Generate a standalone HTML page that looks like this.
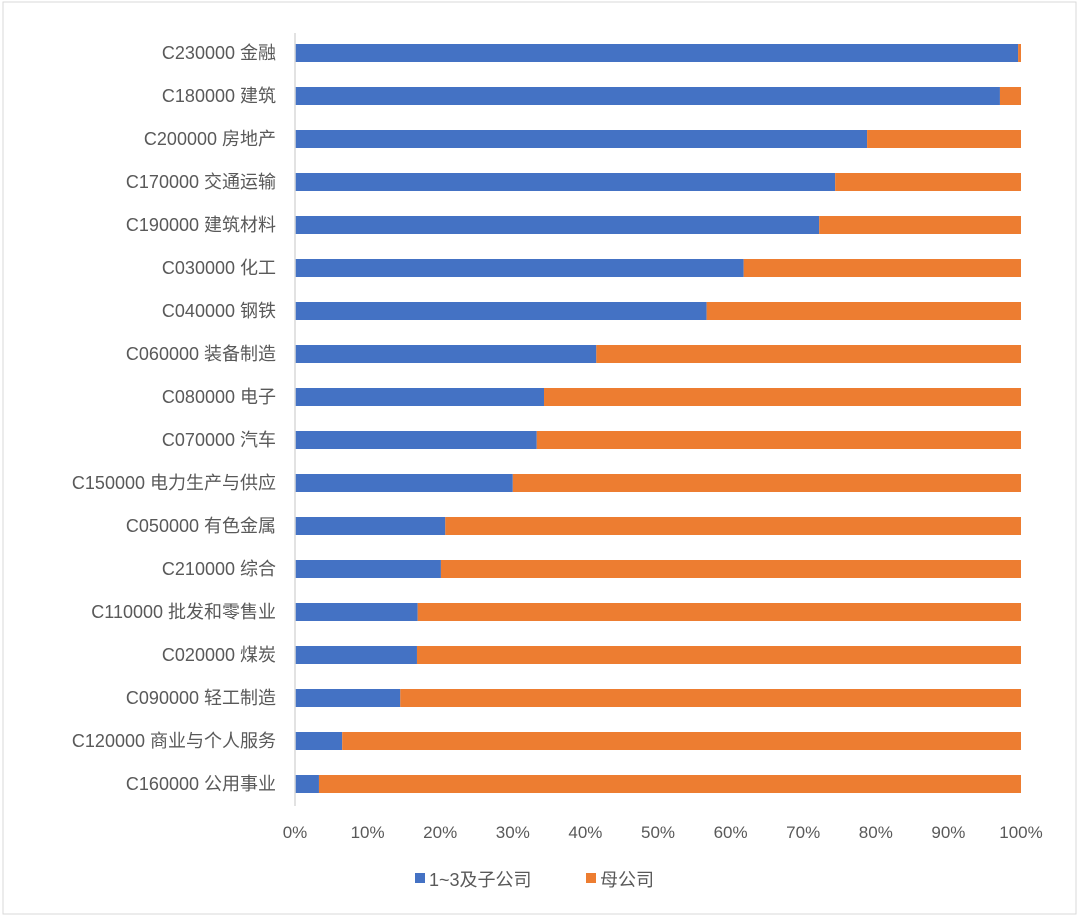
<!DOCTYPE html>
<html><head><meta charset="utf-8"><style>
body{margin:0;background:#fff;}
svg text{font-family:"Liberation Sans","Noto Sans CJK SC",sans-serif;fill:#595959;}
</style></head><body>
<svg id="c" width="1080" height="919">
<rect x="3" y="2" width="1073" height="912" fill="#fff" stroke="#d9d9d9"/>
</svg>
<script>
const categories=["C230000 金融","C180000 建筑","C200000 房地产","C170000 交通运输","C190000 建筑材料","C030000 化工","C040000 钢铁","C060000 装备制造","C080000 电子","C070000 汽车","C150000 电力生产与供应","C050000 有色金属","C210000 综合","C110000 批发和零售业","C020000 煤炭","C090000 轻工制造","C120000 商业与个人服务","C160000 公用事业"];
const subsidiary=[0.996,0.971,0.788,0.744,0.722,0.618,0.567,0.415,0.343,0.333,0.300,0.207,0.201,0.169,0.168,0.145,0.065,0.033];
const parent=subsidiary.map(v=>1-v);
const ticks=["0%","10%","20%","30%","40%","50%","60%","70%","80%","90%","100%"];
const svg=document.getElementById('c');const NS='http://www.w3.org/2000/svg';
function mk(t,a){const e=document.createElementNS(NS,t);for(const k in a)e.setAttribute(k,a[k]);svg.appendChild(e);return e;}
const x0=295,x1=1021,yTop=53,step=43,bh=18;
const xs=v=>x0+v*(x1-x0);
const ys=i=>yTop+i*step;
categories.forEach((c,i)=>{
 const y=ys(i);
 const b=mk('rect',{x:xs(0),y:y-bh/2,width:xs(subsidiary[i])-xs(0),height:bh,fill:'#4472C4'});
 
 
 const o=mk('rect',{x:xs(subsidiary[i]),y:y-bh/2,width:xs(subsidiary[i]+parent[i])-xs(subsidiary[i]),height:bh,fill:'#ED7D31'});
 
 
 const t=mk('text',{x:276,y:y+6,'text-anchor':'end','font-size':'18'});t.textContent=c;
 
 
});
const ax=mk('line',{x1:x0,x2:x0,y1:33,y2:806,stroke:'#d9d9d9','stroke-width':1.5});


ticks.forEach((t,i)=>{
 const e=mk('text',{x:xs(i/10),y:838,'text-anchor':'middle','font-size':'17'});e.textContent=t;
 
 
});
const l1=mk('rect',{x:415,y:873,width:10,height:10,fill:'#4472C4'});


const lt1=mk('text',{x:429,y:886,'font-size':'18'});lt1.textContent='1~3及子公司';


const l2=mk('rect',{x:586,y:873,width:10,height:10,fill:'#ED7D31'});


const lt2=mk('text',{x:600,y:886,'font-size':'18'});lt2.textContent='母公司';


</script>
</body></html>
